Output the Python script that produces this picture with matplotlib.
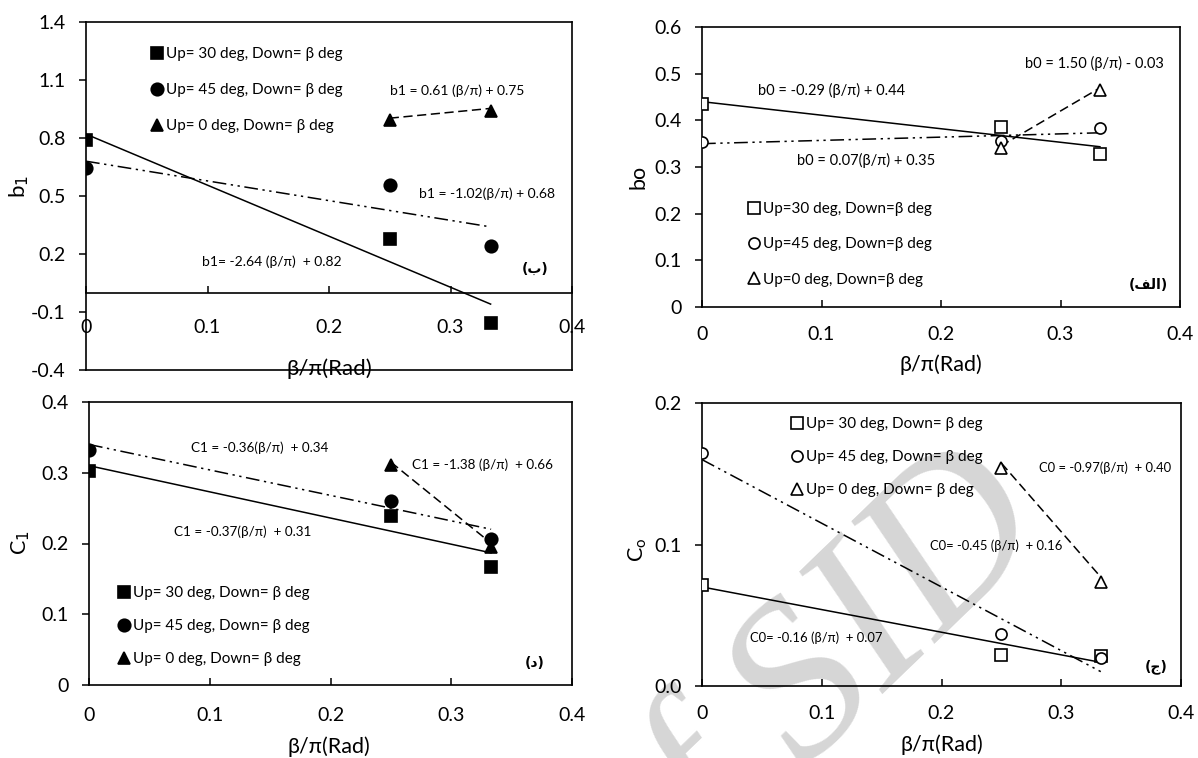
import numpy as np
import matplotlib
matplotlib.use("Agg")
import matplotlib.pyplot as plt

plt.rcParams["font.family"] = ["Lato", "DejaVu Sans"]
plt.rcParams["mathtext.fontset"] = "dejavusans"

# ---------------------------------------------------------------------------
# Data
# ---------------------------------------------------------------------------
BETA = [0.0, 0.25, 0.333]          # beta/pi for Up=30 and Up=45 series
BETA_UP0 = [0.25, 0.333]           # beta/pi for Up=0 series

b1_up30 = [0.79, 0.28, -0.155]
b1_up45 = [0.645, 0.555, 0.24]
b1_up0 = [0.895, 0.94]
b1_slopes = [-2.64, -1.02, 0.61]
b1_intercepts = [0.82, 0.68, 0.75]

b0_up30 = [0.434, 0.385, 0.327]
b0_up45 = [0.353, 0.356, 0.383]
b0_up0 = [0.34, 0.466]
b0_slopes = [-0.29, 0.07, 1.50]
b0_intercepts = [0.44, 0.35, -0.03]

c1_up30 = [0.303, 0.239, 0.167]
c1_up45 = [0.332, 0.26, 0.207]
c1_up0 = [0.311, 0.195]
c1_slopes = [-0.37, -0.36, -1.38]
c1_intercepts = [0.31, 0.34, 0.66]

c0_up30 = [0.0714, 0.022, 0.021]
c0_up45 = [0.165, 0.037, 0.020]
c0_up0 = [0.154, 0.0733]
c0_slopes = [-0.16, -0.45, -0.97]
c0_intercepts = [0.07, 0.16, 0.40]

X_TICKS = [0, 0.1, 0.2, 0.3, 0.4]
X_TICK_LABELS = ["0", "0.1", "0.2", "0.3", "0.4"]
B1_TICKS = [-0.4, -0.1, 0.2, 0.5, 0.8, 1.1, 1.4]
B1_TICK_LABELS = ["-0.4", "-0.1", "0.2", "0.5", "0.8", "1.1", "1.4"]
B0_TICKS = [0, 0.1, 0.2, 0.3, 0.4, 0.5, 0.6]
B0_TICK_LABELS = ["0", "0.1", "0.2", "0.3", "0.4", "0.5", "0.6"]
C1_TICKS = [0, 0.1, 0.2, 0.3, 0.4]
C1_TICK_LABELS = ["0", "0.1", "0.2", "0.3", "0.4"]
C0_TICKS = [0, 0.1, 0.2]
C0_TICK_LABELS = ["0.0", "0.1", "0.2"]

LEG_SPACED = ["Up= 30 deg, Down= β deg", "Up= 45 deg, Down= β deg",
              "Up= 0 deg, Down= β deg"]
LEG_TIGHT = ["Up=30 deg, Down=β deg", "Up=45 deg, Down=β deg",
             "Up=0 deg, Down=β deg"]

B1_EQS = ["b1= -2.64 (β/π)  + 0.82", "b1 = -1.02(β/π) + 0.68",
          "b1 = 0.61 (β/π) + 0.75"]
B0_EQS = ["b0 = -0.29 (β/π) + 0.44", "b0 = 0.07(β/π) + 0.35",
          "b0 = 1.50 (β/π) - 0.03"]
C1_EQS = ["C1 = -0.37(β/π)  + 0.31", "C1 = -0.36(β/π)  + 0.34",
          "C1 = -1.38 (β/π)  + 0.66"]
C0_EQS = ["C0= -0.16 (β/π)  + 0.07", "C0= -0.45 (β/π)  + 0.16",
          "C0 = -0.97(β/π)  + 0.40"]

# ---------------------------------------------------------------------------
# Styling
# ---------------------------------------------------------------------------
W, H = 1198, 758
MARKERS = ["s", "o", "^"]
LINESTYLES = ["-", (0, (9, 3, 1.5, 3, 1.5, 3)), (0, (6, 3))]
ARABIC = ["DejaVu Sans"]
TICK_FS = 14
LABEL_FS = 15.5


def px_axes(fig, left, top, right, bottom):
    ax = fig.add_axes([left / W, 1 - bottom / H, (right - left) / W,
                       (bottom - top) / H])
    ax.set_zorder(1)       # keep the watermark underneath
    ax.set_facecolor("none")
    return ax


def draw_series(ax, ys, slopes, intercepts, filled, msize):
    xs_list = [BETA, BETA, BETA_UP0]
    handles = []
    for i, (xs, y) in enumerate(zip(xs_list, ys)):
        h, = ax.plot(xs, y, linestyle="none", marker=MARKERS[i],
                     markersize=msize, markeredgewidth=1.2,
                     markerfacecolor="black" if filled else "white",
                     markeredgecolor="black", zorder=4)
        handles.append(h)
        xf = np.array([xs[0], xs[-1]])
        ax.plot(xf, slopes[i] * xf + intercepts[i], color="black",
                linewidth=1.1, linestyle=LINESTYLES[i], zorder=3)
    return handles


def style_axes(ax, ylim, yticks, ylabels, xpad):
    ax.set_xlim(0, 0.4)
    ax.set_ylim(*ylim)
    ax.set_xticks(X_TICKS, X_TICK_LABELS)
    ax.set_yticks(yticks, ylabels)
    ax.tick_params(axis="x", direction="in", length=5, width=1.1,
                   pad=xpad, labelsize=TICK_FS)
    ax.tick_params(axis="y", direction="out", length=5, width=1.1,
                   pad=9.5, labelsize=TICK_FS)
    for s in ax.spines.values():
        s.set_linewidth(1.2)


def add_legend(fig, ax, handles, labels, x, y, spacing):
    ax.legend(handles, labels, loc="upper left", bbox_to_anchor=(x / W, 1 - y / H),
              bbox_transform=fig.transFigure, frameon=False, borderpad=0,
              borderaxespad=0, handlelength=0.9, handletextpad=0.15,
              labelspacing=spacing, fontsize=11, numpoints=1)


def add_equations(ax, texts, positions, size):
    for txt, (tx, ty) in zip(texts, positions):
        ax.text(tx, ty, txt, fontsize=size, ha="left", va="center")


fig = plt.figure(figsize=(W / 100, H / 100), dpi=100)

# scanned-page watermark, drawn underneath the axes
fig.text(808 / W, 1 - 690 / H, "of SID", rotation=44, fontsize=160,
         family="Liberation Serif", style="italic", color="#d6d6d6",
         ha="center", va="center", zorder=0)

# --- top-left: b1 ----------------------------------------------------------
ax = px_axes(fig, 86, 22, 572, 370)
h = draw_series(ax, [b1_up30, b1_up45, b1_up0], b1_slopes, b1_intercepts,
                True, 9)
style_axes(ax, (-0.4, 1.4), B1_TICKS, B1_TICK_LABELS, 19)
ax.spines["bottom"].set_position(("data", 0))
ax.axhline(-0.4, color="black", linewidth=1.2, clip_on=False)
ax.set_xlabel("β/π(Rad)", fontsize=16, va="center",
              bbox=dict(facecolor="white", edgecolor="none", pad=3))
ax.xaxis.set_label_coords(0.5, 0.004)
ax.set_ylabel("b$_1$", fontsize=16, va="center")
ax.yaxis.set_label_coords(-0.137, 0.526)
add_legend(fig, ax, h, LEG_SPACED, 150, 47, 1.44)
add_equations(ax, B1_EQS, [(0.0955, 0.159), (0.274, 0.511), (0.250, 1.045)], 10)
ax.text(0.370, 0.123, "(ب)", fontsize=10, fontweight="bold", family=ARABIC,
        ha="center", va="center")

# --- top-right: b0 ---------------------------------------------------------
ax = px_axes(fig, 702, 27, 1180, 307)
h = draw_series(ax, [b0_up30, b0_up45, b0_up0], b0_slopes, b0_intercepts,
                False, 8)
style_axes(ax, (0, 0.6), B0_TICKS, B0_TICK_LABELS, 14)
ax.set_xlabel("β/π(Rad)", fontsize=LABEL_FS, va="center")
ax.xaxis.set_label_coords(0.5, -0.207)
ax.set_ylabel("bo", fontsize=LABEL_FS, va="center")
ax.yaxis.set_label_coords(-0.133, 0.464)
add_legend(fig, ax, h, LEG_TIGHT, 747, 202, 1.40)
add_equations(ax, B0_EQS, [(0.0466, 0.463), (0.0795, 0.315), (0.270, 0.521)], 10.5)
ax.text(0.3735, 0.0465, "(\uFED2\uFEDF\uFE8D)", fontsize=10, fontweight="bold",
        family=ARABIC, ha="center", va="center")

# --- bottom-left: C1 -------------------------------------------------------
ax = px_axes(fig, 89, 402, 572, 685)
h = draw_series(ax, [c1_up30, c1_up45, c1_up0], c1_slopes, c1_intercepts,
                True, 9)
style_axes(ax, (0, 0.4), C1_TICKS, C1_TICK_LABELS, 16)
ax.set_xlabel("β/π(Rad)", fontsize=LABEL_FS, va="center")
ax.xaxis.set_label_coords(0.496, -0.219)
ax.set_ylabel("C$_1$", fontsize=LABEL_FS, va="center")
ax.yaxis.set_label_coords(-0.142, 0.502)
add_legend(fig, ax, h, LEG_SPACED, 117, 586, 1.24)
add_equations(ax, C1_EQS, [(0.0701, 0.216), (0.0842, 0.335), (0.2674, 0.311)], 9.7)
ax.text(0.369, 0.031, "(د)", fontsize=10, fontweight="bold", family=ARABIC,
        ha="center", va="center")

# --- bottom-right: C0 ------------------------------------------------------
ax = px_axes(fig, 702, 403, 1181, 686)
h = draw_series(ax, [c0_up30, c0_up45, c0_up0], c0_slopes, c0_intercepts,
                False, 8)
style_axes(ax, (0, 0.2), C0_TICKS, C0_TICK_LABELS, 14)
ax.set_xlabel("β/π(Rad)", fontsize=LABEL_FS, va="center")
ax.xaxis.set_label_coords(0.5, -0.208)
ax.set_ylabel("C$_\\mathregular{o}$", fontsize=LABEL_FS, va="center")
ax.yaxis.set_label_coords(-0.134, 0.48)
add_legend(fig, ax, h, LEG_SPACED, 790, 417, 1.24)
add_equations(ax, C0_EQS, [(0.0403, 0.034), (0.1907, 0.099), (0.2814, 0.154)], 9.4)
ax.text(0.379, 0.0134, "(ج)", fontsize=10, fontweight="bold", family=ARABIC,
        ha="center", va="center")

fig.savefig("out.png", dpi=100)
